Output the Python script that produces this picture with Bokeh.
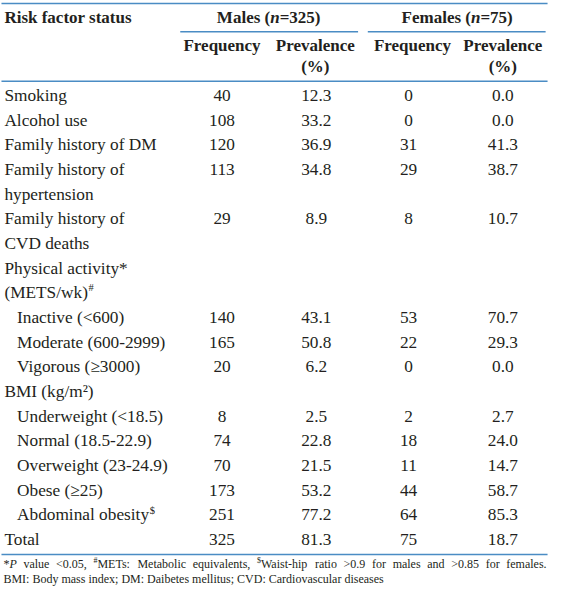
from bokeh.plotting import figure
from bokeh.models import Range1d
from bokeh.core.properties import value
from bokeh.embed import file_html
from bokeh.resources import INLINE

# ---------------- data ----------------
row_labels = [
    ["Smoking"],
    ["Alcohol use"],
    ["Family history of DM"],
    ["Family history of", "hypertension"],
    ["Family history of", "CVD deaths"],
    ["Physical activity*", "(METS/wk)"],
    ["Inactive (<600)"],
    ["Moderate (600-2999)"],
    ["Vigorous (\u22653000)"],
    ["BMI (kg/m\u00b2)"],
    ["Underweight (<18.5)"],
    ["Normal (18.5-22.9)"],
    ["Overweight (23-24.9)"],
    ["Obese (\u226525)"],
    ["Abdominal obesity"],
    ["Total"],
]
row_indent = [0, 0, 0, 0, 0, 0, 1, 1, 1, 0, 1, 1, 1, 1, 1, 0]
row_sup = ["", "", "", "", "", "#", "", "", "", "", "", "", "", "", "$", ""]

male_freq = [40, 108, 120, 113, 29, None, 140, 165, 20, None, 8, 74, 70, 173, 251, 325]
male_prev = [12.3, 33.2, 36.9, 34.8, 8.9, None, 43.1, 50.8, 6.2, None, 2.5, 22.8, 21.5, 53.2, 77.2, 81.3]
female_freq = [0, 0, 31, 29, 8, None, 53, 22, 0, None, 2, 18, 11, 44, 64, 75]
female_prev = [0.0, 0.0, 41.3, 38.7, 10.7, None, 70.7, 29.3, 0.0, None, 2.7, 24.0, 14.7, 58.7, 85.3, 18.7]

title_first = "Risk factor status"
group_names = [("Males (", "n", "=325)"), ("Females (", "n", "=75)")]
sub_heads = ["Frequency", "Prevalence", "Frequency", "Prevalence"]
sub_heads2 = ["", "(%)", "", "(%)"]

foot_words = [
    [("*", "normal", False), ("P", "italic", False)],
    [("value", "normal", False)],
    [("<0.05,", "normal", False)],
    [("#", "normal", True), ("METs:", "normal", False)],
    [("Metabolic", "normal", False)],
    [("equivalents,", "normal", False)],
    [("$", "normal", True), ("Waist-hip", "normal", False)],
    [("ratio", "normal", False)],
    [(">0.9", "normal", False)],
    [("for", "normal", False)],
    [("males", "normal", False)],
    [("and", "normal", False)],
    [(">0.85", "normal", False)],
    [("for", "normal", False)],
    [("females.", "normal", False)],
]
foot_line2 = "BMI: Body mass index; DM: Daibetes mellitus; CVD: Cardiovascular diseases"

# ---------------- style / layout ----------------
FONT = "Liberation Serif"
TXT = "#231f20"
RULE = "#4a8cc4"
BODY = 17.3
HEAD = 17
SUP = 10.5
FOOT = 12
FOOT_SUP = 8

X_LABEL, X_INDENT = 4, 17
COLS = [228, 325, 420, 517]
HEAD_COLS = [228, 324, 424, 517]
GROUP_X = [276, 470]
Y_FIRST, STEP = 97.5, 25.35

# Times-compatible advance widths (per 1000 em)
REG = {" ": 250, "#": 500, "$": 500, "%": 833, "(": 333, ")": 333, "*": 500, ",": 250,
       "-": 333, ".": 250, "/": 278, ":": 278, ";": 278, "<": 564, "=": 564, ">": 564,
       "A": 722, "B": 667, "C": 667, "D": 722, "E": 611, "F": 556, "I": 333, "M": 889,
       "P": 556, "S": 556, "T": 611, "W": 944,
       "a": 444, "b": 500, "c": 444, "d": 500, "e": 444, "f": 333, "g": 500, "h": 500,
       "i": 278, "j": 278, "k": 500, "l": 278, "m": 778, "n": 500, "o": 500, "p": 500,
       "q": 500, "r": 333, "s": 389, "t": 278, "u": 500, "v": 500, "w": 722, "x": 500,
       "y": 500, "z": 444}
BOLD = {" ": 250, "(": 333, ")": 333, "=": 570, "F": 611, "M": 944, "a": 500, "e": 444,
        "l": 278, "m": 833, "s": 389, "n": 556}
ITAL = {"P": 611, "n": 500}


def tw(s, size, table=REG):
    return sum(table.get(ch, 500) for ch in s) * size / 1000.0


p = figure(width=549, height=588, x_range=Range1d(0, 565), y_range=Range1d(604, 0),
           output_backend="svg", toolbar_location=None, min_border=0,
           x_axis_location=None, y_axis_location=None)
p.grid.visible = False
p.outline_line_color = None
p.background_fill_color = "white"


def put(x, y, t, size, align="left", style="normal", xo=0.0):
    p.text(x=[x], y=[y], text=[t], x_offset=xo, text_font=value(FONT),
           text_font_size=value(f"{size}px"), text_font_style=style,
           text_align=align, text_baseline="middle", text_color=TXT)


# rules
p.segment(x0=[1, 185, 378, 1, 1], y0=[3, 32, 32, 83, 569],
          x1=[563, 368, 561, 563, 563], y1=[3, 32, 32, 83, 569],
          line_color=RULE, line_width=1.5)

# header
put(X_LABEL, 17, title_first, HEAD, style="bold")
for gx, (a, n, b) in zip(GROUP_X, group_names):
    wa, wn, wb = tw(a, HEAD, BOLD), tw(n, HEAD, BOLD), tw(b, HEAD, BOLD)
    start = -(wa + wn + wb) / 2
    put(gx, 17, a, HEAD, style="bold", xo=start)
    put(gx, 17, n, HEAD, style="bold italic", xo=start + wa)
    put(gx, 17, b, HEAD, style="bold", xo=start + wa + wn)
for hx, h1, h2 in zip(HEAD_COLS, sub_heads, sub_heads2):
    put(hx, 46, h1, HEAD, align="center", style="bold")
    if h2:
        put(hx, 68, h2, HEAD, align="center", style="bold")

# body
k = 0
for i, lines in enumerate(row_labels):
    x0 = X_INDENT if row_indent[i] else X_LABEL
    y_row = Y_FIRST + STEP * k
    for j, ln in enumerate(lines):
        put(x0, Y_FIRST + STEP * (k + j), ln, BODY)
    if row_sup[i]:
        put(x0, Y_FIRST + STEP * (k + len(lines) - 1) - 5, row_sup[i], SUP,
            xo=tw(lines[-1], BODY) + 0.5)
    cells = [male_freq[i], male_prev[i], female_freq[i], female_prev[i]]
    for c, (cx, v) in enumerate(zip(COLS, cells)):
        if v is None:
            continue
        txt = f"{v:.1f}" if c % 2 == 1 else f"{v:d}"
        put(cx, y_row, txt, BODY, align="center")
    k += len(lines)


# footnotes (line 1 justified)
def piece_w(t, style, sup):
    if sup:
        return tw(t, FOOT_SUP)
    if style == "italic":
        return tw(t, FOOT, ITAL)
    return tw(t, FOOT)


target = (562 - 3) * 549 / 565
words_w = [sum(piece_w(*pc) for pc in w) for w in foot_words]
gap = (target - sum(words_w)) / (len(foot_words) - 1)
cur = 0.0
for w, ww in zip(foot_words, words_w):
    off = cur
    for t, style, sup in w:
        if sup:
            put(3, 575, t, FOOT_SUP, xo=off)
        else:
            put(3, 579, t, FOOT, style=style, xo=off)
        off += piece_w(t, style, sup)
    cur += ww + gap
put(3, 594, foot_line2, FOOT)

open("out.html", "w").write(file_html(p, INLINE))
